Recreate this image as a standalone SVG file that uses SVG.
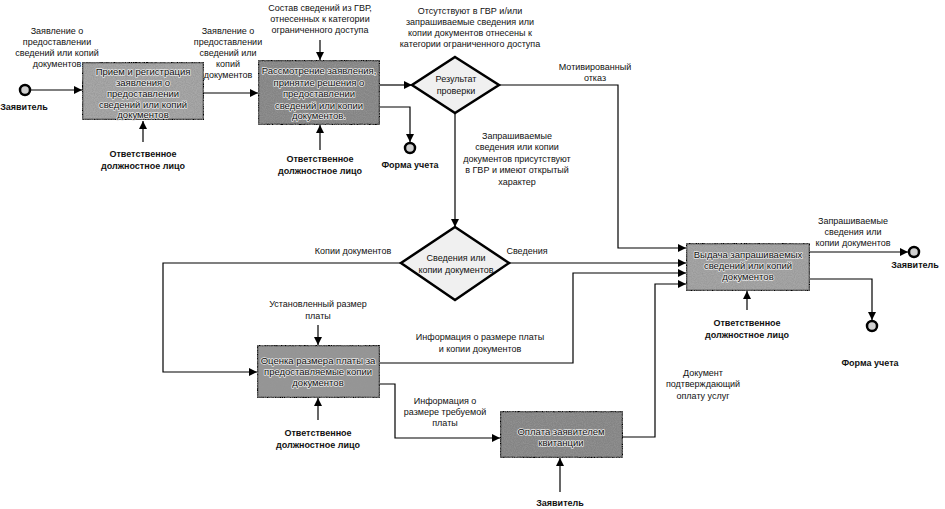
<svg xmlns="http://www.w3.org/2000/svg" width="945" height="509" viewBox="0 0 945 509">
<defs>
<marker id="arr" markerUnits="userSpaceOnUse" markerWidth="9" markerHeight="8" refX="8" refY="4" orient="auto">
<path d="M0,0 L8,4 L0,8 z" fill="#000"/>
</marker>
<filter id="noise" x="0" y="0" width="100%" height="100%">
<feTurbulence type="fractalNoise" baseFrequency="0.9" numOctaves="2" seed="3" result="t"/>
<feColorMatrix in="t" type="matrix" values="0 0 0 0 0.3  0 0 0 0 0.3  0 0 0 0 0.3  0 0 0 1.6 -0.5" result="g"/>
<feComposite in="g" in2="SourceGraphic" operator="in" result="gm"/>
<feMerge><feMergeNode in="SourceGraphic"/><feMergeNode in="gm"/></feMerge>
</filter>
</defs>
<style>
text{font-family:"Liberation Sans",Arial,sans-serif;font-size:9px;fill:#111;text-anchor:middle}
.b{font-weight:bold}
.bt{font-size:9.5px;paint-order:stroke;stroke:#e6e6e6;stroke-width:1.6px;stroke-linejoin:round}
.box{stroke:#000;stroke-width:2.5}
.dia{fill:#f0f0f0;stroke:#000;stroke-width:2.5}
.ev{fill:#cfcfcf;stroke:#000;stroke-width:2.5}
.c path{fill:none;stroke:#000;stroke-width:1.2;marker-end:url(#arr)}
</style>
<rect width="945" height="509" fill="#fff"/>

<g class="c" id="connectors">
<path d="M30,90 H82"/>
<path d="M204,93 H258"/>
<path d="M320,40 V60"/>
<path d="M143,142 V121"/>
<path d="M320,150 V125"/>
<path d="M380,85 H412"/>
<path d="M380,107 H410 V142"/>
<path d="M499,85 H618 V248 H686"/>
<path d="M455,113 V227"/>
<path d="M509,263 H686"/>
<path d="M401,263 H163 V372 H257"/>
<path d="M318,325 V345"/>
<path d="M318,420 V398"/>
<path d="M380,363 H573 V273 H686"/>
<path d="M380,384 H395 V438 H500"/>
<path d="M623,437 H655 V284 H686"/>
<path d="M560,492 V458"/>
<path d="M810,252 H908"/>
<path d="M810,279 H872 V320"/>
<path d="M747,310 V291"/>
</g>

<g id="start">
<circle class="ev" cx="25" cy="90" r="5"/>
<text class="b" x="24" y="110">Заявитель</text>
</g>
<g id="in-label-1">
<text x="57" y="34">Заявление о</text>
<text x="57" y="45">предоставлении</text>
<text x="57" y="56">сведений или копий</text>
<text x="57" y="67">документов</text>
</g>

<g id="box1">
<rect class="box" x="82" y="62" width="122" height="58" fill="#a8a8a8" filter="url(#noise)"/>
<text class="bt" x="143" y="75">Прием и регистрация</text>
<text class="bt" x="143" y="86">заявления о</text>
<text class="bt" x="143" y="97">предоставлении</text>
<text class="bt" x="143" y="108">сведений или копий</text>
<text class="bt" x="143" y="118">документов</text>
</g>
<g id="resp1">
<text class="b" x="143" y="157">Ответственное</text>
<text class="b" x="143" y="169">должностное лицо</text>
</g>

<g id="in-label-2">
<text x="228" y="34">Заявление о</text>
<text x="228" y="45">предоставлении</text>
<text x="228" y="56">сведений или</text>
<text x="228" y="67">копий</text>
<text x="228" y="78">документов</text>
</g>

<g id="ctrl2">
<text x="320" y="11">Состав сведений из ГВР,</text>
<text x="320" y="22">отнесенных к категории</text>
<text x="320" y="33">ограниченного доступа</text>
</g>

<g id="box2">
<rect class="box" x="258" y="60" width="122" height="65" fill="#848484" filter="url(#noise)"/>
<text class="bt" x="319" y="74">Рассмотрение заявления,</text>
<text class="bt" x="319" y="86">принятие решения о</text>
<text class="bt" x="319" y="97">предоставлении</text>
<text class="bt" x="319" y="109">сведений или копии</text>
<text class="bt" x="319" y="119">документов.</text>
</g>
<g id="resp2">
<text class="b" x="320" y="162">Ответственное</text>
<text class="b" x="320" y="174">должностное лицо</text>
</g>

<g id="form1">
<circle class="ev" cx="410" cy="148" r="5"/>
<text class="b" x="410" y="168">Форма учета</text>
</g>

<g id="diamond1">
<polygon class="dia" points="455,57 499,85 455,113 412,85"/>
<text x="456" y="82">Результат</text>
<text x="456" y="94">проверки</text>
</g>

<g id="label-deny-cond">
<text x="470" y="14">Отсутствуют в ГВР и/или</text>
<text x="470" y="25">запрашиваемые сведения или</text>
<text x="470" y="36">копии документов отнесены к</text>
<text x="470" y="47">категории ограниченного доступа</text>
</g>
<g id="label-deny">
<text x="595" y="70">Мотивированный</text>
<text x="595" y="81">отказ</text>
</g>
<g id="label-ok">
<text x="517" y="139">Запрашиваемые</text>
<text x="517" y="150">сведения или копии</text>
<text x="517" y="162">документов присутствуют</text>
<text x="517" y="173">в ГВР и имеют открытый</text>
<text x="517" y="185">характер</text>
</g>

<g id="diamond2">
<polygon class="dia" points="455,227 509,263 455,300 401,263"/>
<text x="456" y="261">Сведения или</text>
<text x="456" y="273">копии документов</text>
</g>
<g id="label-copies">
<text x="353" y="254">Копии документов</text>
</g>
<g id="label-info">
<text x="527" y="254">Сведения</text>
</g>

<g id="ctrl4">
<text x="318" y="307">Установленный размер</text>
<text x="318" y="319">платы</text>
</g>

<g id="box4">
<rect class="box" x="257" y="345" width="123" height="53" fill="#969696" filter="url(#noise)"/>
<text class="bt" x="318" y="364">Оценка размера платы за</text>
<text class="bt" x="318" y="375">предоставляемые копии</text>
<text class="bt" x="318" y="386">документов</text>
</g>
<g id="resp4">
<text class="b" x="318" y="436">Ответственное</text>
<text class="b" x="318" y="448">должностное лицо</text>
</g>

<g id="label-fee-copies">
<text x="480" y="340">Информация о размере платы</text>
<text x="480" y="352">и копии документов</text>
</g>
<g id="label-fee">
<text x="445" y="404">Информация о</text>
<text x="445" y="415">размере требуемой</text>
<text x="445" y="426">платы</text>
</g>

<g id="box5">
<rect class="box" x="500" y="411" width="123" height="47" fill="#848484" filter="url(#noise)"/>
<text class="bt" x="561" y="435">Оплата заявителем</text>
<text class="bt" x="561" y="446">квитанции</text>
</g>
<g id="payer">
<text class="b" x="560" y="506">Заявитель</text>
</g>

<g id="label-payment">
<text x="703" y="376">Документ</text>
<text x="703" y="387">подтверждающий</text>
<text x="703" y="399">оплату услуг</text>
</g>

<g id="box3">
<rect class="box" x="686" y="243" width="124" height="48" fill="#a6a6a6" filter="url(#noise)"/>
<text class="bt" x="748" y="258">Выдача запрашиваемых</text>
<text class="bt" x="748" y="269">сведений или копий</text>
<text class="bt" x="748" y="280">документов</text>
</g>
<g id="resp3">
<text class="b" x="747" y="326">Ответственное</text>
<text class="b" x="747" y="338">должностное лицо</text>
</g>

<g id="label-out">
<text x="853" y="224">Запрашиваемые</text>
<text x="853" y="235">сведения или</text>
<text x="853" y="246">копии документов</text>
</g>
<g id="end-applicant">
<circle class="ev" cx="914" cy="252" r="5"/>
<text class="b" x="915" y="268">Заявитель</text>
</g>
<g id="form2">
<circle class="ev" cx="872" cy="326" r="5"/>
<text class="b" x="870" y="366">Форма учета</text>
</g>
</svg>
